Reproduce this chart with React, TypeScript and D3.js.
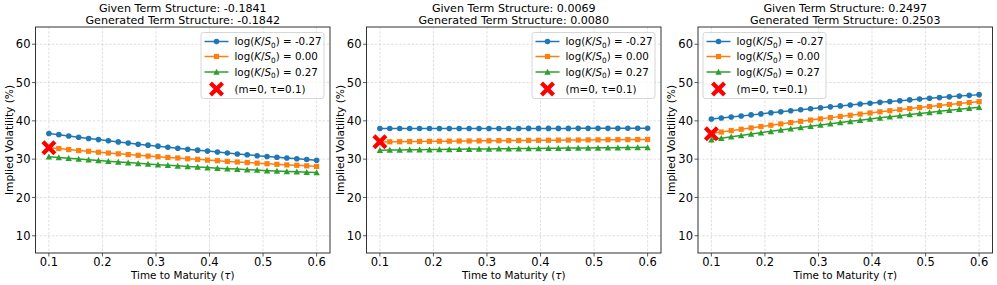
import * as d3 from "d3";

// maturities (tau), 28 grid points
const tau = [
  0.1, 0.1185, 0.137, 0.1556, 0.1741, 0.1926, 0.2111, 0.2296, 0.2481, 0.2667,
  0.2852, 0.3037, 0.3222, 0.3407, 0.3593, 0.3778, 0.3963, 0.4148, 0.4333, 0.4519,
  0.4704, 0.4889, 0.5074, 0.5259, 0.5444, 0.563, 0.5815, 0.6,
];

const moneyness = ["-0.27", "0.00", "0.27"];
const givenTS = ["-0.1841", "0.0069", "0.2497"];
const generatedTS = ["-0.1842", "0.0080", "0.2503"];

// panel 1
const p1Low = [36.7, 36.4, 36.05, 35.7, 35.4, 35.1, 34.8, 34.5, 34.2, 33.9, 33.65, 33.4, 33.1, 32.85, 32.6, 32.35, 32.1, 31.85, 31.6, 31.35, 31.15, 30.9, 30.7, 30.5, 30.3, 30.1, 29.9, 29.7];
const p1Atm = [33.0, 32.75, 32.5, 32.25, 32.05, 31.8, 31.6, 31.4, 31.2, 31.0, 30.8, 30.65, 30.45, 30.3, 30.1, 29.95, 29.75, 29.6, 29.4, 29.25, 29.1, 28.95, 28.8, 28.65, 28.5, 28.4, 28.25, 28.1];
const p1High = [30.65, 30.45, 30.25, 30.05, 29.85, 29.65, 29.45, 29.25, 29.1, 28.9, 28.75, 28.55, 28.4, 28.25, 28.1, 27.95, 27.8, 27.65, 27.5, 27.4, 27.25, 27.15, 27.0, 26.9, 26.8, 26.7, 26.6, 26.5];

// panel 2
const p2Low = [38.0, 38.0, 38.0, 38.0, 38.0, 38.0, 38.01, 38.01, 38.01, 38.01, 38.02, 38.02, 38.02, 38.02, 38.02, 38.03, 38.03, 38.03, 38.03, 38.03, 38.04, 38.04, 38.04, 38.04, 38.04, 38.05, 38.05, 38.05];
const p2Atm = [34.5, 34.53, 34.56, 34.59, 34.62, 34.65, 34.68, 34.7, 34.73, 34.75, 34.78, 34.8, 34.83, 34.85, 34.87, 34.9, 34.92, 34.94, 34.96, 34.98, 35.0, 35.02, 35.04, 35.06, 35.08, 35.1, 35.12, 35.14];
const p2High = [32.35, 32.38, 32.41, 32.44, 32.47, 32.5, 32.53, 32.56, 32.59, 32.62, 32.65, 32.67, 32.7, 32.73, 32.75, 32.78, 32.8, 32.83, 32.85, 32.88, 32.9, 32.93, 32.95, 32.98, 33.0, 33.03, 33.05, 33.08];

// panel 3
const p3Low = [40.5, 40.75, 41.0, 41.27, 41.55, 41.82, 42.1, 42.37, 42.63, 42.9, 43.15, 43.4, 43.65, 43.9, 44.15, 44.38, 44.6, 44.83, 45.05, 45.26, 45.47, 45.68, 45.88, 46.07, 46.27, 46.46, 46.65, 46.84];
const p3Atm = [36.7, 37.07, 37.44, 37.8, 38.16, 38.51, 38.86, 39.2, 39.54, 39.87, 40.2, 40.52, 40.84, 41.15, 41.46, 41.76, 42.06, 42.35, 42.64, 42.92, 43.2, 43.47, 43.74, 44.0, 44.26, 44.51, 44.76, 45.0];
const p3High = [35.1, 35.47, 35.84, 36.2, 36.56, 36.91, 37.26, 37.6, 37.94, 38.27, 38.6, 38.92, 39.24, 39.56, 39.87, 40.18, 40.48, 40.78, 41.07, 41.36, 41.65, 41.93, 42.21, 42.48, 42.75, 43.02, 43.28, 43.55];

// highlighted point (m=0, tau=0.1)
const refTau = 0.1;
const refVol = [33.0, 34.55, 36.6];

const xTicks = [0.1, 0.2, 0.3, 0.4, 0.5, 0.6];
const yTicks = [10, 20, 30, 40, 50, 60];

const colors = ["#1f77b4", "#ff7f0e", "#2ca02c"];
const markers = ["circle", "square", "triangle"];
const font = "DejaVu Sans";

const panels = [
  { left: 35.5, series: [p1Low, p1Atm, p1High], legendLeft: false },
  { left: 366.5, series: [p2Low, p2Atm, p2High], legendLeft: false },
  { left: 698, series: [p3Low, p3Atm, p3High], legendLeft: true },
];

function Marker({ kind, cx, cy, color }: { kind: string; cx: number; cy: number; color: string }) {
  if (kind === "circle") return <circle cx={cx} cy={cy} r={2.8} fill={color} />;
  if (kind === "square") return <rect x={cx - 2.6} y={cy - 2.6} width={5.2} height={5.2} fill={color} />;
  return <path d={`M${cx},${cy - 3.2}L${cx + 3.2},${cy + 2.8}L${cx - 3.2},${cy + 2.8}Z`} fill={color} />;
}

const xPts = [[-0.5, -0.3], [-0.3, -0.5], [0, -0.2], [0.3, -0.5], [0.5, -0.3], [0.2, 0], [0.5, 0.3], [0.3, 0.5], [0, 0.2], [-0.3, 0.5], [-0.5, 0.3], [-0.2, 0]];
function XMark({ cx, cy, size }: { cx: number; cy: number; size: number }) {
  const d = "M" + xPts.map(([a, b]) => `${cx + a * size},${cy + b * size}`).join("L") + "Z";
  return <path d={d} fill="#ff0000" />;
}

function Panel({ idx }: { idx: number }) {
  const { left, series, legendLeft } = panels[idx];
  const width = 294.5;
  const top = 27;
  const bottom = 253;
  const x = d3.scaleLinear().domain([0.075, 0.625]).range([left, left + width]);
  const y = d3.scaleLinear().domain([5.5, 64.5]).range([bottom, top]);
  const line = d3.line<number>().x((_, i) => x(tau[i])).y((d) => y(d));
  const cx = left + width / 2;

  const lw = 123;
  const lx = legendLeft ? left + 5 : left + width - 6 - lw;
  const ly = top + 5.5;
  const rows = [9, 24, 39.5, 56.5];

  return (
    <g fontFamily={font}>
      {/* grid */}
      <g stroke="#b0b0b0" strokeOpacity={0.5} strokeWidth={0.8} strokeDasharray="2.5,1.6">
        {xTicks.map((t) => (
          <line key={"gx" + t} x1={x(t)} x2={x(t)} y1={top} y2={bottom} />
        ))}
        {yTicks.map((t) => (
          <line key={"gy" + t} x1={left} x2={left + width} y1={y(t)} y2={y(t)} />
        ))}
      </g>

      {/* series */}
      {series.map((s, si) => (
        <g key={si}>
          <path d={line(s) ?? ""} fill="none" stroke={colors[si]} strokeWidth={1.5} />
          {s.map((v, i) => (
            <Marker key={i} kind={markers[si]} cx={x(tau[i])} cy={y(v)} color={colors[si]} />
          ))}
        </g>
      ))}
      <XMark cx={x(refTau)} cy={y(refVol[idx])} size={15} />

      {/* frame */}
      <rect x={left} y={top} width={width} height={bottom - top} fill="none" stroke="#333" strokeWidth={1} />

      {/* x axis */}
      {xTicks.map((t) => (
        <g key={"xt" + t}>
          <line x1={x(t)} x2={x(t)} y1={bottom} y2={bottom + 3.5} stroke="#333" strokeWidth={0.8} />
          <text x={x(t)} y={266.3} textAnchor="middle" fontSize={11.5} fill="#000">
            {t.toFixed(1)}
          </text>
        </g>
      ))}
      {/* y axis */}
      {yTicks.map((t) => (
        <g key={"yt" + t}>
          <line x1={left - 3.5} x2={left} y1={y(t)} y2={y(t)} stroke="#333" strokeWidth={0.8} />
          <text x={left - 5} y={y(t)} dy="0.36em" textAnchor="end" fontSize={11.5} fill="#000">
            {t}
          </text>
        </g>
      ))}

      <text x={cx} y={278.5} textAnchor="middle" fontSize={10.4}>
        Time to Maturity (<tspan fontStyle="italic">τ</tspan>)
      </text>
      <text
        transform={`translate(${left - 23},${(top + bottom) / 2}) rotate(-90)`}
        textAnchor="middle"
        fontSize={10.6}
      >
        Implied Volatility (%)
      </text>

      {/* title */}
      <text x={cx} y={11.6} textAnchor="middle" fontSize={11.1}>
        Given Term Structure: {givenTS[idx]}
      </text>
      <text x={cx} y={24.4} textAnchor="middle" fontSize={11.1}>
        Generated Term Structure: {generatedTS[idx]}
      </text>

      {/* legend */}
      <rect x={lx} y={ly} width={lw} height={66} rx={2.5} fill="#fff" fillOpacity={0.8} stroke="#cccccc" strokeWidth={0.8} />
      {moneyness.map((m, si) => (
        <g key={"lg" + si}>
          <line x1={lx + 3.5} x2={lx + 27.5} y1={ly + rows[si]} y2={ly + rows[si]} stroke={colors[si]} strokeWidth={1.5} />
          <Marker kind={markers[si]} cx={lx + 15.5} cy={ly + rows[si]} color={colors[si]} />
          <text x={lx + 33.5} y={ly + rows[si]} dy="0.36em" fontSize={10.3}>
            log(<tspan fontStyle="italic">K</tspan>/<tspan fontStyle="italic">S</tspan>
            <tspan dy={2.4} fontSize={7.3}>0</tspan>
            <tspan dy={-2.4}>) = {m}</tspan>
          </text>
        </g>
      ))}
      <XMark cx={lx + 15.5} cy={ly + rows[3]} size={15} />
      <text x={lx + 33.5} y={ly + rows[3]} dy="0.36em" fontSize={10.3}>
        (m=0, τ=0.1)
      </text>
    </g>
  );
}

export default function App() {
  return (
    <svg
      width={997}
      height={285}
      viewBox="0 0 997 285"
      style={{ position: "absolute", left: 0, top: 0, display: "block", background: "#fff" }}
    >
      {panels.map((_, i) => (
        <Panel key={i} idx={i} />
      ))}
    </svg>
  );
}
